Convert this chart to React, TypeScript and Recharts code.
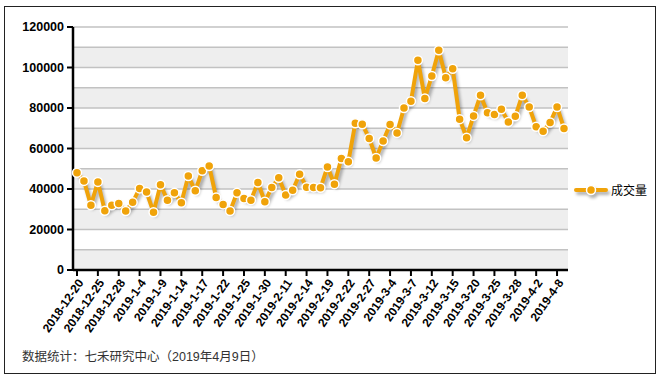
import { LineChart, Line, XAxis, YAxis, CartesianGrid } from "recharts";

// trading days, one point per day
const dates = [
  "2018-12-20", "2018-12-21", "2018-12-24", "2018-12-25", "2018-12-26", "2018-12-27",
  "2018-12-28", "2019-1-2", "2019-1-3", "2019-1-4", "2019-1-7", "2019-1-8",
  "2019-1-9", "2019-1-10", "2019-1-11", "2019-1-14", "2019-1-15", "2019-1-16",
  "2019-1-17", "2019-1-18", "2019-1-21", "2019-1-22", "2019-1-23", "2019-1-24",
  "2019-1-25", "2019-1-28", "2019-1-29", "2019-1-30", "2019-1-31", "2019-2-1",
  "2019-2-11", "2019-2-12", "2019-2-13", "2019-2-14", "2019-2-15", "2019-2-18",
  "2019-2-19", "2019-2-20", "2019-2-21", "2019-2-22", "2019-2-25", "2019-2-26",
  "2019-2-27", "2019-2-28", "2019-3-1", "2019-3-4", "2019-3-5", "2019-3-6",
  "2019-3-7", "2019-3-8", "2019-3-11", "2019-3-12", "2019-3-13", "2019-3-14",
  "2019-3-15", "2019-3-18", "2019-3-19", "2019-3-20", "2019-3-21", "2019-3-22",
  "2019-3-25", "2019-3-26", "2019-3-27", "2019-3-28", "2019-3-29", "2019-4-1",
  "2019-4-2", "2019-4-3", "2019-4-4", "2019-4-8", "2019-4-9",
];

// 成交量
const volumes = [
  48000, 44000, 32000, 43500, 29200, 32000, 32900, 29100, 33400, 40300, 38500, 28500,
  42100, 34500, 38100, 33200, 46400, 39100, 49000, 51300, 35800, 32400, 29100, 38100,
  35300, 34500, 43200, 33700, 40800, 45500, 37000, 39400, 47300, 40900, 40800, 40600,
  50900, 42400, 55100, 53400, 72500, 72000, 65000, 55300, 63700, 71900, 67700, 80000,
  83300, 103600, 84700, 95800, 108500, 95000, 99400, 74500, 65300, 76100, 86300, 77700,
  76800, 79400, 73100, 75900, 86300, 80500, 70700, 68500, 72800, 80500, 69900,
];

const yTicks = [0, 20000, 40000, 60000, 80000, 100000, 120000];
const gridValues = [0, 10000, 20000, 30000, 40000, 50000, 60000, 70000, 80000, 90000, 100000, 110000, 120000];

const data = dates.map((d, i) => ({ date: d, volume: volumes[i] }));

const ORANGE = "#F0A30A";
const FONT = "'Liberation Sans', Arial, 'Noto Sans CJK SC', sans-serif";

export default function App() {
  return (
    <div style={{ position: "absolute", left: 0, top: 0, width: 660, height: 375, background: "#fff", fontFamily: FONT }}>
      <style>{`.recharts-line { filter: drop-shadow(2px 3px 1.5px rgba(0,0,0,0.3)); }`}</style>
      <div style={{ position: "absolute", left: 4, top: 6, width: 650, height: 366, border: "1px solid #222" }} />
      <LineChart width={660} height={375} data={data} margin={{ top: 27, right: 92, left: 0, bottom: 0 }}>
        <CartesianGrid
          vertical={false}
          horizontalValues={gridValues}
          horizontalFill={["#ffffff", "#eeeeee"]}
          stroke="#c2c2c2"
          strokeWidth={1.5}
        />
        <XAxis
          dataKey="date"
          interval={2}
          height={105}
          padding={{ left: 4, right: 4 }}
          axisLine={{ stroke: "#000", strokeWidth: 2.5 }}
          tickLine={{ stroke: "#000", strokeWidth: 2 }}
          tickSize={6}
          angle={-55}
          textAnchor="end"
          tick={{ fontSize: 12, fontWeight: "bold", fill: "#000", fontFamily: FONT }}
        />
        <YAxis
          width={73}
          domain={[0, 120000]}
          ticks={yTicks}
          interval={0}
          axisLine={{ stroke: "#000", strokeWidth: 2.5 }}
          tickLine={{ stroke: "#000", strokeWidth: 2 }}
          tickSize={6}
          tickMargin={3}
          tick={{ fontSize: 12.5, fontWeight: "bold", fill: "#000", fontFamily: FONT }}
        />
        <Line
          type="linear"
          dataKey="volume"
          name="成交量"
          stroke={ORANGE}
          strokeWidth={4}
          strokeLinejoin="round"
          dot={{ r: 4.5, fill: ORANGE, stroke: "#fff", strokeWidth: 1.5 }}
          activeDot={false}
          isAnimationActive={false}
        />
      </LineChart>
      {/* legend */}
      <div style={{ position: "absolute", left: 574, top: 181, display: "flex", alignItems: "center", fontSize: 12, color: "#000" }}>
        <svg width={34} height={16} style={{ filter: "drop-shadow(2px 3px 1.5px rgba(0,0,0,0.3))" }}>
          <line x1={2} y1={8} x2={32} y2={8} stroke={ORANGE} strokeWidth={4} strokeLinecap="round" />
          <circle cx={17} cy={8} r={4.5} fill={ORANGE} stroke="#fff" strokeWidth={1.5} />
        </svg>
        <span style={{ marginLeft: 3, fontFamily: "'Noto Sans CJK SC', sans-serif" }}>成交量</span>
      </div>
      <div style={{ position: "absolute", left: 22, top: 346, fontSize: 12.5, color: "#333", fontFamily: FONT }}>
        数据统计：七禾研究中心（2019年4月9日）
      </div>
    </div>
  );
}
